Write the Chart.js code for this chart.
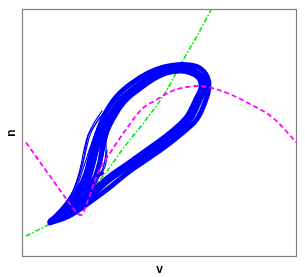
<!DOCTYPE html>
<html><head><meta charset="utf-8">
<script src="https://cdn.jsdelivr.net/npm/chart.js@4/dist/chart.umd.min.js"></script>
<style>html,body{margin:0;padding:0;background:#fff;}canvas{display:block;}</style>
</head><body>
<canvas id="c" width="305" height="277"></canvas>
<script>
// Axis titles and ranges (no tick labels in the original)
const xTitle = 'v';
const yTitle = 'n';
const vRange = [0, 275];
const nRange = [0, 248];

// v-nullcline (magenta dashed)
const vNullV = [4, 30, 48, 56, 59, 66, 75, 90, 105, 120, 135, 150, 165, 178, 195, 210, 228, 250, 275];
const vNullN = [114.5, 78, 53, 43, 42, 57, 82, 107, 129, 148, 157.5, 166, 170, 171, 167.5, 162, 153, 140, 114];

// n-nullcline (green dash-dot)
const nNullV = [4, 30, 56, 82, 103, 123, 143, 160, 175, 189];
const nNullN = [21, 34.5, 53, 82, 111, 136, 164, 195, 221, 247];

// trajectory loops [v, n]
const loopOuter = [[28,34],[47,41],[68,55],[87,69],[108,86],[130,101],[148,114],[164,127],[175,138],[183,155],[187,170],[185,181],[178,189],[168,192],[158,192.5],[142,190],[126,184],[110,174],[95,161],[84,145],[77,129],[72,114],[68,99],[64,84],[58,70],[49,57],[38,45],[28,35]];
const loopMid = [[28,35],[46,44],[66,58],[85,75],[106,90],[128,105],[146,118],[161,130],[170,140],[178,157],[183,170],[181,179],[175,185],[167,188],[158,189],[143,187],[128,180],[113,170],[98,157],[88,142],[81,127],[76,112],[72,97],[68,82],[62,67],[53,54],[41,43],[28,35]];
const loopInner = [[30,37],[48,47],[66,61],[84,78],[105,93],[126,108],[144,121],[158,133],[166,142],[174,158],[179,169],[178,177],[173,182],[166,185],[158,186],[144,184],[130,177],[116,167],[102,155],[92,140],[85,126],[81,111],[78,96],[74,82],[67,67],[57,53],[44,42],[30,36]];

// spread of trajectories on the left branch
const fanCore = [[84,140],[78,125],[74,110],[71,96],[67,82],[61,68],[52,55],[40,44],[29,36]];
const wedge = [[29,36],[42,47],[55,60],[66,72],[74,80],[80,84]];
const fan1 = [[81,140],[74,125],[68,109],[64,97],[60,85],[56,73],[50,61],[41,49],[30,37]];
const fan2 = [[84,140],[77,125],[71,109],[66,95],[62,81],[57,67],[48,54],[36,42],[28,35]];
const fan3 = [[87,140],[81,125],[76,109],[72,95],[67,80],[61,66],[52,52],[40,42],[29,35]];
const fan4 = [[90,140],[85,125],[82,109],[79,94],[74,79],[67,64],[56,51],[42,41],[29,35]];
const fan5 = [[88,139],[84,124],[84,107],[82,92],[77,80],[70,67],[59,53],[44,42],[30,36]];
const fan6 = [[82,145],[73,132],[68,122],[64,107],[61,94],[57,80],[52,67],[44,55],[35,44],[28,35]];
const fan7 = [[86,142],[79,128],[73,114],[69,100],[65,86],[60,72],[53,60],[43,48],[30,37]];
const fan8 = [[92,141],[87,127],[83,112],[80,98],[76,84],[70,70],[61,57],[47,45],[30,36]];
const fan9 = [[85,138],[80,122],[78,106],[76,92],[72,78],[65,64],[55,52],[42,42],[29,35]];
const fan10 = [[80,146],[72,134],[67,124],[64,112],[62,100],[59,88],[55,76],[50,64],[42,52],[31,39]];
const fan11 = [[78,140],[70,128],[66,122],[62,107],[59,92],[55,77],[49,62],[40,49],[29,36]];
const hook = [[85,107],[84,94],[81,86],[77,83],[74,78],[76,73],[82,73],[90,78],[100,85]];

const toXY = arr => arr.map(p => ({x: p[0], y: p[1]}));
const zipXY = (xs, ys) => xs.map((x, i) => ({x: x, y: ys[i]}));

const blue = '#0000ff';
function traj(arr, w) {
  return {data: toXY(arr), showLine: true, borderColor: blue, borderWidth: w, pointRadius: 0,
          tension: 0.4, fill: false, order: 1, borderCapStyle: 'round', borderJoinStyle: 'round'};
}

const frame = {
  id: 'frame',
  beforeDatasetsDraw(chart) {
    const a = chart.chartArea, ctx = chart.ctx;
    ctx.save();
    ctx.strokeStyle = '#808080';
    ctx.lineWidth = 1.2;
    ctx.strokeRect(Math.round(a.left) + 0.5, Math.round(a.top) + 0.5,
                   Math.round(a.right - a.left) - 1, Math.round(a.bottom - a.top) - 1);
    ctx.restore();
  }
};

new Chart(document.getElementById('c'), {
  type: 'scatter',
  data: {
    datasets: [
      {data: zipXY(vNullV, vNullN), showLine: true, borderColor: '#ff00ff', borderWidth: 1.8,
       borderDash: [5, 3], pointRadius: 0, cubicInterpolationMode: 'monotone', order: 0},
      traj(loopOuter, 5),
      traj(loopMid, 5),
      traj(loopInner, 5),
      traj(fanCore, 6),
      traj(wedge, 4),
      traj(fan1, 1.2), traj(fan2, 1.2), traj(fan3, 1.2), traj(fan4, 1.2), traj(fan5, 1.2),
      traj(fan6, 1.2), traj(fan7, 1.2), traj(fan8, 1.2), traj(fan9, 1.2), traj(fan10, 1.2),
      traj(fan11, 1.2),
      traj(hook, 1.2),
      {data: zipXY(nNullV, nNullN), showLine: true, borderColor: '#00ee00', borderWidth: 1.6,
       borderDash: [5, 2, 1.5, 2], pointRadius: 0, cubicInterpolationMode: 'monotone', order: 2}
    ]
  },
  options: {
    responsive: false,
    animation: false,
    layout: {padding: {top: 9, right: 8, left: 0, bottom: 0}},
    plugins: {legend: {display: false}, tooltip: {enabled: false}},
    scales: {
      x: {type: 'linear', position: 'bottom', min: vRange[0], max: vRange[1],
          grid: {display: false, drawTicks: false, tickLength: 0}, border: {display: false}, ticks: {display: false},
          title: {display: true, text: xTitle, color: '#000',
                  font: {family: 'Liberation Sans, Arial, sans-serif', size: 12, weight: 'bold'},
                  padding: {top: 5.6, bottom: 0}}},
      y: {type: 'linear', position: 'left', min: nRange[0], max: nRange[1],
          grid: {display: false, drawTicks: false, tickLength: 0}, border: {display: false}, ticks: {display: false},
          title: {display: true, text: yTitle, color: '#000',
                  font: {family: 'Liberation Sans, Arial, sans-serif', size: 12, weight: 'bold'},
                  padding: {top: 4.8, bottom: 2.8}}}
    }
  },
  plugins: [frame]
});
</script>
</body></html>
